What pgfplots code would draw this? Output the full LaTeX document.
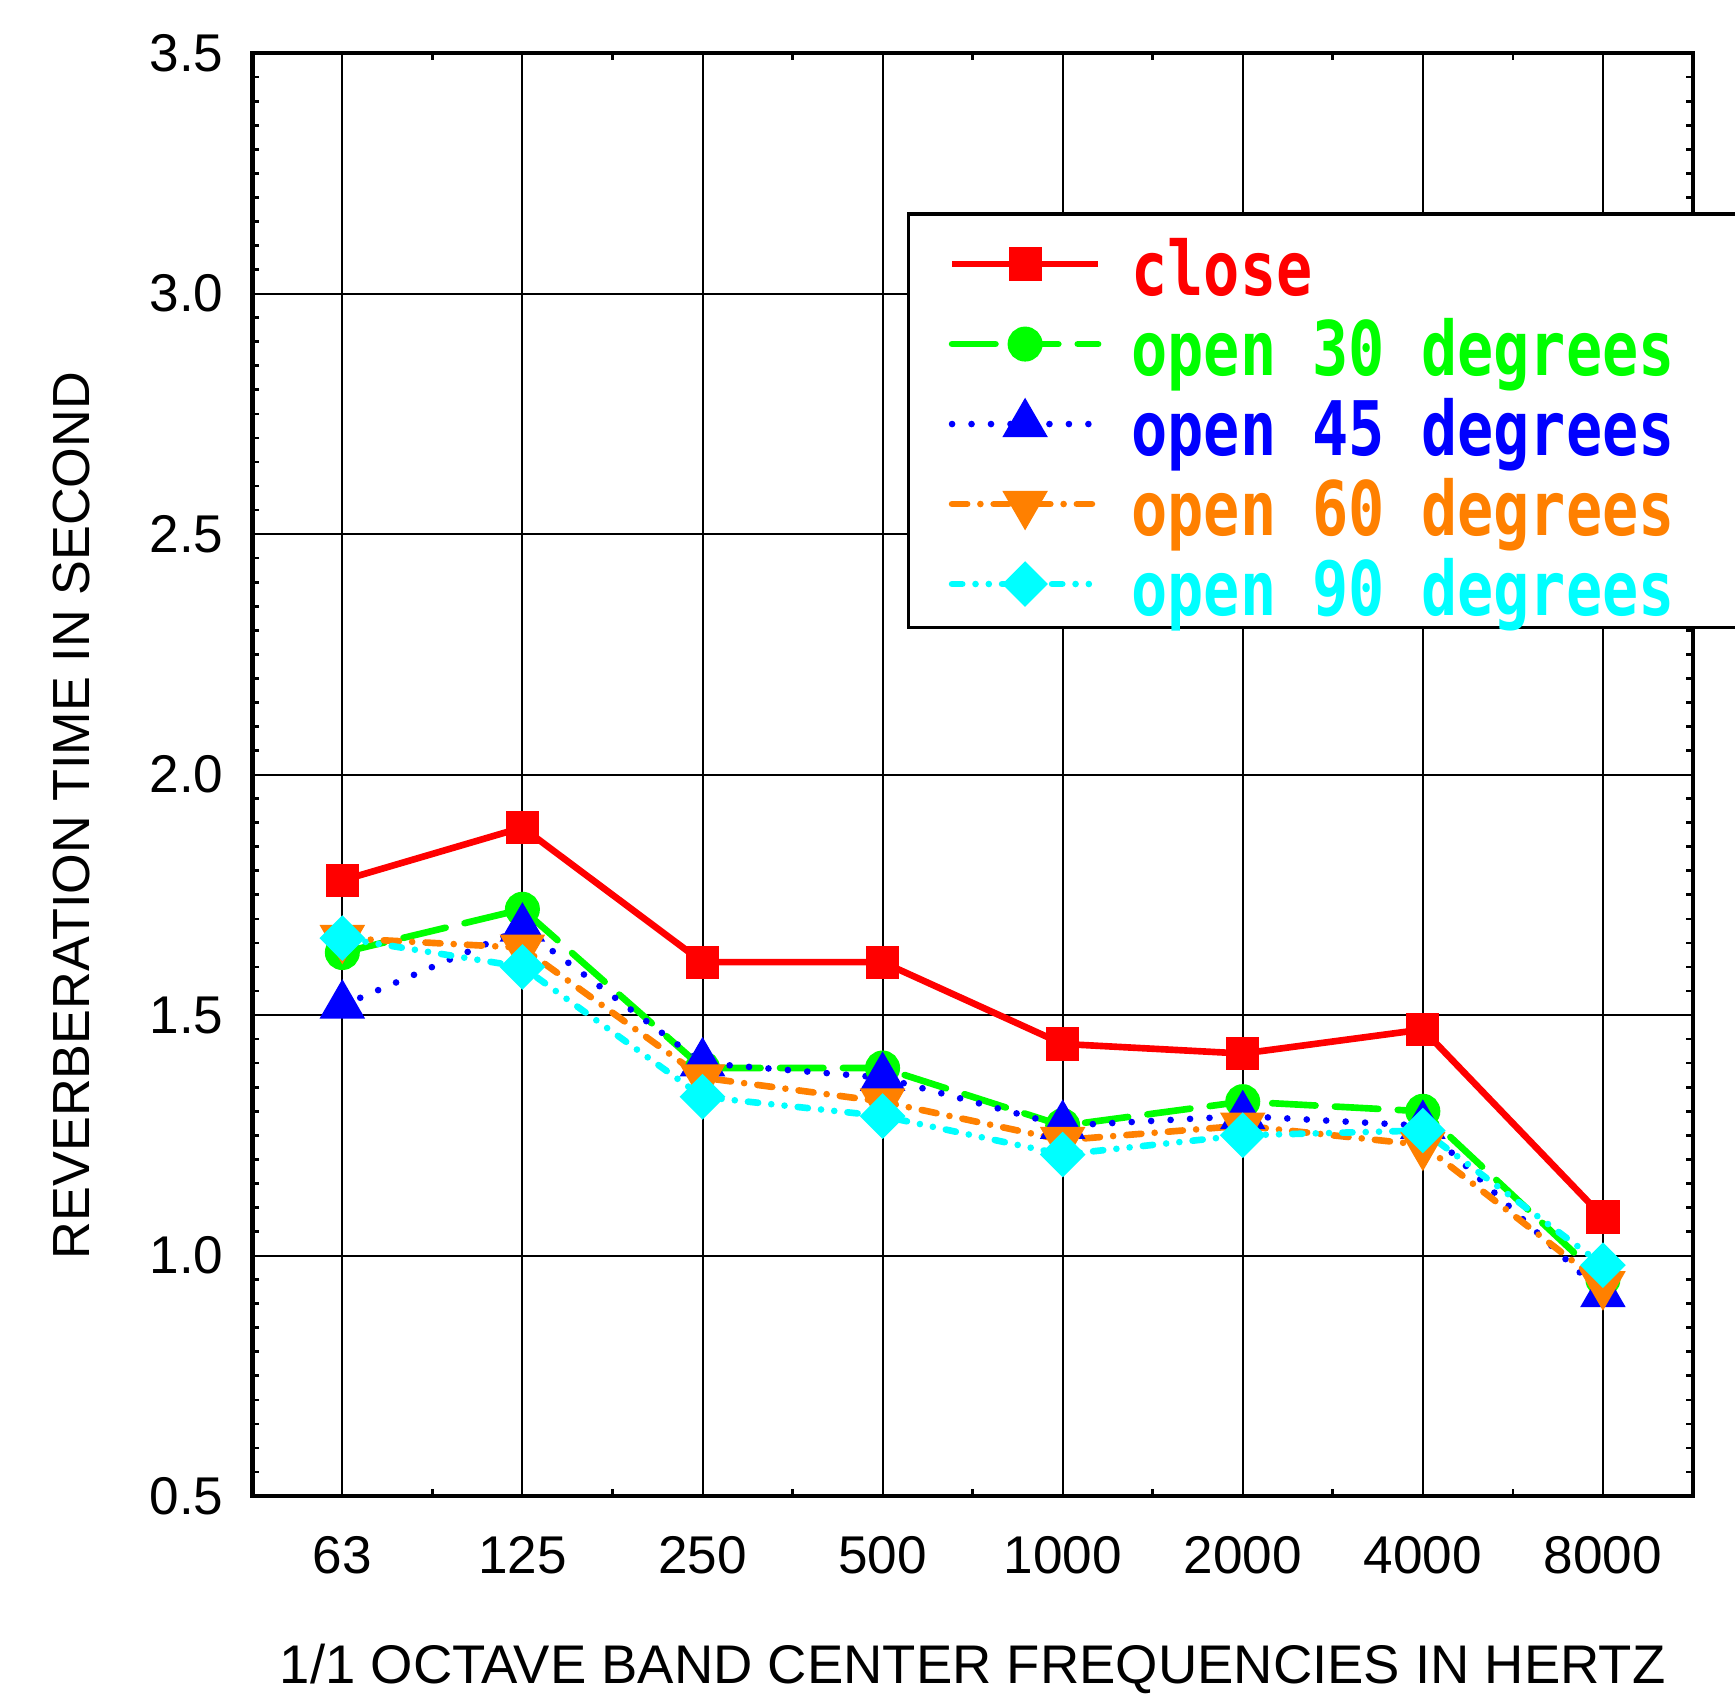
\documentclass[border=0pt]{standalone}
\usepackage{fontspec}
\setmainfont{Liberation Sans}
\newfontfamily\legfont[FakeStretch=0.8]{DejaVu Sans Mono}
\usepackage{pgfplots}
\pgfplotsset{compat=1.18}
\usetikzlibrary{calc}

\definecolor{cclose}{RGB}{255,0,0}
\definecolor{cthirty}{RGB}{0,255,0}
\definecolor{cfortyfive}{RGB}{0,0,255}
\definecolor{csixty}{RGB}{255,128,0}
\definecolor{cninety}{RGB}{0,255,255}

\begin{document}
\begin{tikzpicture}
\begin{axis}[
  scale only axis,
  width=325.5pt, height=326pt,
  xmin=-0.5, xmax=7.5,
  ymin=0.5, ymax=3.5,
  xtick={0,1,2,3,4,5,6,7},
  xticklabels={63,125,250,500,1000,2000,4000,8000},
  ytick={0.5,1.0,1.5,2.0,2.5,3.0,3.5},
  minor y tick num=9,
  minor x tick num=1,
  major tick length=0pt,
  minor tick length=1.5pt,
  tick style={black, line width=0.6pt},
  grid=major,
  major grid style={black, line width=0.45pt},
  axis line style={line width=1pt},
  /pgf/number format/assume math mode=true,
  yticklabel style={/pgf/number format/fixed, /pgf/number format/fixed zerofill, /pgf/number format/precision=1, xshift=-3pt},
  ticklabel style={font=\fontsize{12}{14}\selectfont},
  xticklabel style={yshift=-5.5pt},
  xlabel={1/1 OCTAVE BAND CENTER FREQUENCIES IN HERTZ},
  ylabel={REVERBERATION TIME IN SECOND},
  xlabel style={font=\fontsize{12.3}{14}\selectfont, at={(axis description cs:0.5,0)}, anchor=center, yshift=-39pt},
  ylabel style={font=\fontsize{11.8}{14}\selectfont, at={(axis description cs:0,0.4716)}, anchor=center, yshift=40.75pt},
  legend cell align=left,
  legend image code/.code={
    \draw[mark repeat=2, mark phase=2] plot coordinates {(0pt,-0.75pt) (16.5pt,-0.75pt) (33pt,-0.75pt)};
  },
  legend style={
    at={(rel axis cs:0.4547,0.8896)}, anchor=north west,
    draw=black, line width=0.7pt, fill=white,
    inner xsep=9pt, inner ysep=1.2pt,
    row sep=-0.68pt,
    nodes={inner sep=0pt, text height=17.2pt, text depth=1.55pt},
    font=\legfont\bfseries\fontsize{17}{18}\selectfont,
    /tikz/every odd column/.append style={column sep=6.75pt},
  },
]
\addplot[color=cclose, line width=1.5pt, mark=square*, mark size=3pt, mark options={solid}] coordinates {
  (0,1.78) (1,1.89) (2,1.61) (3,1.61) (4,1.44) (5,1.42) (6,1.47) (7,1.08)
};
\addlegendentry{\textcolor{cclose}{close}}
\addplot[color=cthirty, line width=1.5pt, line cap=round, dash pattern=on 9.8pt off 4.4pt, mark=*, mark size=3.2pt, mark options={solid}] coordinates {
  (0,1.63) (1,1.72) (2,1.39) (3,1.39) (4,1.27) (5,1.32) (6,1.30) (7,0.95)
};
\addlegendentry{\textcolor{cthirty}{open 30 degrees}\rule{14pt}{0pt}}
\addplot[color=cfortyfive, line width=1.5pt, line cap=round, dash pattern=on 0pt off 4.4pt, mark=triangle*, mark size=4.45pt, mark options={solid}] coordinates {
  (0,1.52) (1,1.68) (2,1.40) (3,1.37) (4,1.27) (5,1.29) (6,1.27) (7,0.92)
};
\addlegendentry{\textcolor{cfortyfive}{open 45 degrees}}
\addplot[color=csixty, line width=1.5pt, line cap=round, dash pattern=on 3.4pt off 3pt on 0pt off 3pt, mark=triangle*, mark size=4.45pt, mark options={solid, rotate=180}] coordinates {
  (0,1.66) (1,1.64) (2,1.37) (3,1.32) (4,1.24) (5,1.27) (6,1.23) (7,0.94)
};
\addlegendentry{\textcolor{csixty}{open 60 degrees}}
\addplot[color=cninety, line width=1.5pt, line cap=round, dash pattern=on 2.3pt off 3pt on 0pt off 3pt on 0pt off 3pt, mark=square*, mark size=2.9pt, mark options={solid, rotate=45}] coordinates {
  (0,1.66) (1,1.60) (2,1.33) (3,1.29) (4,1.21) (5,1.25) (6,1.26) (7,0.98)
};
\addlegendentry{\textcolor{cninety}{open 90 degrees}}
\end{axis}
\pgfresetboundingbox
\path[use as bounding box] ($(current axis.south west)+(-57pt,-47pt)$) rectangle ($(current axis.north east)+(9.5pt,12pt)$);
\end{tikzpicture}
\end{document}
